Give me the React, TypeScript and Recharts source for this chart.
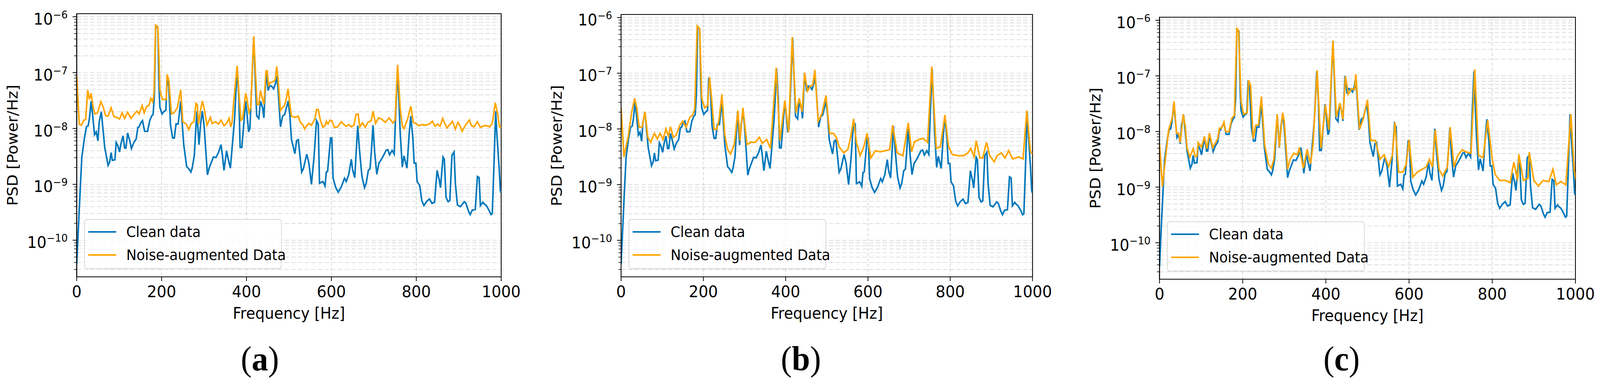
import React from "react";
import {
  LineChart,
  Line,
  XAxis,
  YAxis,
  CartesianGrid,
  ReferenceArea,
  Legend,
} from "recharts";

// log10(PSD) values, frequency in Hz
const cleanFreq = [
  0, 6, 12, 18, 23, 27, 30, 34, 37, 42, 46, 50, 53, 58, 61, 66, 74, 78, 81, 84, 90, 93, 97, 101, 104,
  109, 113, 116, 120, 125, 129, 134, 140, 144, 147, 150, 155, 160, 167, 172, 177, 180, 183, 186, 191,
  194, 196, 201, 205, 210, 213, 217, 221, 226, 230, 234, 239, 245, 252, 259, 264, 269, 272, 277, 283,
  288, 292, 296, 300, 308, 312, 316, 322, 328, 334, 340, 343, 347, 353, 357, 362, 368, 372, 378, 382,
  385, 389, 394, 398, 401, 405, 408, 417, 420, 424, 429, 433, 438, 441, 446, 451, 455, 460, 464, 468,
  471, 474, 480, 485, 490, 498, 502, 506, 514, 518, 522, 530, 534, 542, 547, 553, 559, 565, 569, 572,
  580, 585, 588, 591, 598, 601, 604, 610, 616, 623, 631, 635, 641, 647, 650, 655, 662, 666, 672, 678,
  682, 687, 691, 694, 698, 702, 707, 712, 718, 723, 729, 733, 737, 743, 748, 751, 756, 762, 767, 771,
  778, 783, 787, 792, 795, 799, 802, 808, 813, 818, 824, 831, 837, 843, 849, 854, 857, 863, 866, 870,
  875, 879, 884, 889, 892, 897, 904, 913, 917, 923, 927, 932, 939, 944, 948, 951, 957, 960, 965, 971,
  976, 979, 983, 987, 990, 995, 998, 1000,
];
const cleanLog = [
  -10.43, -9.45, -8.52, -8.18, -7.97, -7.95, -7.82, -7.51, -7.72, -8.11, -8.06, -8.22, -7.88, -7.7,
  -7.94, -8.34, -8.66, -8.59, -8.43, -8.57, -8.56, -8.25, -8.31, -8.42, -8.28, -8.13, -8.35, -8.35,
  -8.08, -8.22, -8.36, -8.26, -8.19, -7.98, -7.97, -7.91, -7.86, -8.05, -8.05, -7.86, -7.77, -7.75,
  -7.4, -6.17, -6.2, -7.3, -7.62, -7.74, -7.7, -7.67, -7.08, -7.26, -7.94, -8.17, -8.17, -7.92,
  -7.92, -7.51, -8.28, -8.68, -8.72, -8.78, -8.71, -8.49, -7.69, -8.29, -7.91, -7.69, -7.94, -8.83,
  -8.71, -8.63, -8.51, -8.52, -8.43, -8.29, -8.46, -8.75, -8.4, -8.55, -8.71, -8.18, -7.82, -6.92,
  -7.45, -8.34, -8.34, -7.88, -7.51, -7.72, -8.06, -8.0, -6.37, -6.98, -7.77, -7.82, -7.51, -7.63,
  -7.81, -7.0, -7.32, -7.23, -7.25, -7.29, -7.2, -7.06, -7.26, -7.97, -7.78, -7.75, -7.51, -7.75,
  -8.2, -8.45, -8.22, -8.2, -8.78, -8.72, -8.46, -8.62, -9.0, -8.52, -7.86, -7.92, -8.98, -8.95,
  -9.03, -8.78, -8.77, -8.17, -8.17, -8.89, -9.05, -9.14, -9.05, -8.89, -8.95, -8.82, -8.55, -8.74,
  -8.88, -7.95, -8.37, -8.86, -9.06, -8.98, -8.75, -8.72, -8.43, -7.94, -8.43, -8.82, -8.62, -8.55,
  -8.48, -8.39, -8.38, -8.47, -8.39, -8.46, -7.82, -6.92, -8.06, -8.69, -8.49, -8.71, -8.12, -7.78,
  -8.18, -8.62, -8.62, -8.95, -9.02, -9.29, -9.38, -9.31, -9.26, -9.34, -9.32, -8.75, -8.92, -9.06,
  -8.51, -8.55, -9.23, -9.31, -9.29, -8.48, -8.42, -8.98, -9.37, -9.4, -9.31, -9.34, -9.48, -9.54,
  -9.46, -9.45, -8.86, -8.88, -9.38, -9.32, -9.35, -9.38, -9.46, -9.54, -9.52, -8.65, -7.69, -8.12,
  -8.68, -9.11, -9.15,
];

const noiseAFreq = [
  0, 6, 11, 17, 21, 26, 30, 34, 39, 43, 49, 57, 63, 68, 74, 81, 88, 94, 101, 107, 113, 120, 128, 135,
  142, 147, 154, 159, 164, 170, 175, 179, 182, 186, 191, 194, 196, 202, 211, 213, 217, 223, 229, 237,
  245, 250, 258, 264, 270, 276, 281, 284, 287, 292, 296, 300, 307, 315, 319, 327, 334, 340, 347, 353,
  359, 363, 366, 370, 378, 382, 387, 391, 398, 401, 406, 410, 417, 420, 425, 429, 433, 436, 441, 446,
  449, 452, 455, 460, 465, 468, 471, 474, 480, 485, 489, 494, 498, 502, 506, 514, 522, 527, 533, 537,
  542, 547, 553, 561, 565, 569, 574, 580, 585, 588, 592, 597, 601, 607, 615, 623, 631, 635, 641, 647,
  653, 658, 663, 667, 673, 680, 686, 694, 698, 704, 711, 718, 727, 736, 745, 750, 756, 762, 767, 771,
  780, 787, 793, 799, 806, 813, 822, 831, 838, 844, 850, 856, 862, 866, 872, 878, 885, 892, 898, 903,
  908, 916, 925, 930, 936, 944, 951, 960, 965, 973, 979, 986, 992, 996, 1000,
];
const noiseALog = [
  -7.05, -7.92, -7.94, -7.85, -7.84, -7.31, -7.48, -7.37, -7.63, -7.74, -7.72, -7.52, -7.63, -7.77,
  -7.78, -7.63, -7.79, -7.8, -7.83, -7.72, -7.82, -7.71, -7.82, -7.75, -7.69, -7.74, -7.59, -7.72,
  -7.61, -7.59, -7.46, -7.52, -7.38, -6.15, -6.18, -6.77, -7.32, -7.48, -7.48, -7.03, -7.14, -7.74,
  -7.72, -7.63, -7.31, -7.88, -7.92, -8.02, -7.91, -7.88, -7.55, -7.57, -7.92, -7.66, -7.51, -7.63,
  -7.94, -7.8, -7.91, -7.88, -7.92, -7.85, -7.95, -7.91, -7.82, -7.97, -7.89, -7.51, -6.88, -7.35,
  -7.85, -7.82, -7.37, -7.46, -7.71, -7.63, -6.35, -6.83, -7.57, -7.57, -7.32, -7.42, -7.57, -6.97,
  -6.97, -7.25, -7.18, -7.17, -7.15, -7.12, -6.89, -7.08, -7.68, -7.62, -7.6, -7.46, -7.29, -7.57,
  -7.78, -7.8, -7.78, -7.89, -7.94, -8.01, -7.95, -7.91, -7.94, -7.83, -7.66, -7.66, -7.85, -7.98,
  -7.95, -7.87, -7.92, -7.85, -7.86, -7.98, -7.97, -7.88, -7.94, -7.96, -7.93, -7.97, -7.94, -7.75,
  -7.74, -7.97, -7.9, -7.98, -7.89, -7.86, -7.69, -7.91, -7.81, -7.83, -7.89, -7.81, -7.9, -7.85,
  -6.86, -7.63, -7.95, -8.0, -7.82, -7.6, -7.89, -7.91, -7.95, -7.93, -7.94, -7.92, -7.87, -7.96,
  -7.92, -7.96, -7.82, -7.89, -7.99, -7.94, -7.87, -8.01, -7.89, -7.95, -8.05, -7.94, -7.85, -7.95,
  -7.97, -7.88, -7.98, -7.95, -7.95, -7.97, -7.91, -7.54, -7.75, -7.97, -7.98,
];

const noiseBFreq = [
  0, 7, 12, 17, 26, 33, 38, 44, 51, 58, 65, 72, 81, 88, 95, 102, 109, 115, 120, 127, 134, 143, 150,
  158, 167, 174, 179, 185, 191, 196, 203, 210, 215, 220, 226, 233, 238, 245, 252, 259, 266, 275, 284,
  289, 296, 306, 315, 326, 336, 343, 354, 363, 377, 386, 398, 407, 416, 425, 433, 440, 446, 453, 460,
  466, 471, 479, 488, 498, 507, 516, 523, 530, 541, 551, 558, 565, 572, 581, 590, 598, 607, 618, 629,
  643, 653, 660, 671, 685, 698, 706, 713, 724, 734, 745, 755, 766, 776, 787, 796, 805, 819, 833, 843,
  850, 858, 863, 872, 879, 888, 896, 907, 914, 924, 933, 942, 952, 966, 977, 986, 995, 1000,
];
const noiseBLog = [
  -7.62, -8.5, -8.32, -8.15, -7.69, -7.45, -7.62, -7.97, -7.97, -7.69, -8.15, -8.24, -8.08, -8.18,
  -8.08, -8.19, -8.0, -8.13, -7.96, -8.15, -8.11, -7.93, -7.86, -7.97, -7.79, -7.75, -7.64, -6.15,
  -6.2, -7.45, -7.62, -7.58, -7.07, -7.45, -8.01, -8.0, -7.84, -7.38, -8.11, -8.37, -8.45, -8.28,
  -7.67, -8.21, -7.62, -8.28, -8.24, -8.24, -8.15, -8.26, -8.19, -8.35, -6.9, -8.21, -7.49, -8.06,
  -6.35, -7.71, -7.45, -7.69, -6.99, -7.32, -7.23, -7.21, -6.94, -7.86, -7.73, -7.4, -8.08, -8.08,
  -8.15, -8.32, -8.43, -8.37, -8.15, -7.82, -8.24, -8.48, -8.32, -8.08, -8.52, -8.39, -8.41, -8.39,
  -8.37, -7.93, -8.43, -8.48, -7.89, -8.41, -8.23, -8.19, -8.17, -8.24, -6.88, -8.35, -8.32, -7.75,
  -8.32, -8.46, -8.48, -8.48, -8.43, -8.35, -8.5, -8.21, -8.52, -8.52, -8.24, -8.48, -8.59, -8.48,
  -8.43, -8.52, -8.39, -8.54, -8.5, -8.54, -7.67, -8.41, -8.45,
];

const noiseCFreq = [
  0, 7, 11, 16, 22, 28, 31, 35, 41, 46, 50, 57, 62, 66, 73, 81, 86, 90, 93, 101, 108, 114, 120, 128,
  140, 144, 149, 155, 159, 167, 174, 180, 186, 190, 194, 196, 202, 211, 214, 219, 225, 231, 238, 245,
  253, 262, 269, 275, 283, 288, 296, 300, 308, 314, 323, 332, 336, 346, 355, 363, 369, 379, 388, 399,
  407, 417, 425, 434, 441, 447, 454, 462, 469, 472, 481, 490, 500, 508, 519, 530, 540, 551, 560, 566,
  575, 585, 593, 600, 609, 620, 631, 641, 649, 656, 663, 672, 681, 692, 699, 708, 717, 728, 738, 749,
  758, 767, 778, 789, 800, 807, 818, 832, 843, 852, 861, 864, 875, 886, 889, 900, 911, 922, 936, 946,
  954, 965, 977, 989, 997, 1000,
];
const noiseCLog = [
  -8.22, -8.99, -8.71, -8.37, -7.97, -7.82, -7.74, -7.46, -8.03, -8.03, -8.2, -7.69, -7.91, -8.29,
  -8.46, -8.31, -8.45, -8.44, -8.2, -8.28, -8.09, -8.31, -8.03, -8.29, -8.13, -7.94, -7.94, -7.83,
  -8.0, -8.0, -7.76, -7.71, -6.15, -6.18, -7.0, -7.45, -7.69, -7.66, -7.08, -7.17, -8.13, -7.89,
  -7.88, -7.37, -8.25, -8.59, -8.66, -8.5, -7.69, -8.28, -7.66, -7.82, -8.68, -8.5, -8.39, -8.42,
  -8.29, -8.66, -8.32, -8.58, -8.25, -6.9, -8.3, -7.52, -7.97, -6.37, -7.74, -7.49, -7.78, -7.01,
  -7.33, -7.23, -7.25, -6.97, -7.96, -7.77, -7.43, -8.16, -8.16, -8.5, -8.42, -8.63, -8.42, -7.84,
  -8.73, -8.73, -8.59, -8.15, -8.82, -8.73, -8.68, -8.64, -8.5, -8.64, -7.97, -8.68, -8.8, -8.64,
  -7.92, -8.64, -8.43, -8.33, -8.37, -8.39, -6.88, -8.43, -8.47, -7.8, -8.5, -8.77, -8.88, -8.88,
  -8.92, -8.55, -8.88, -8.41, -8.88, -8.84, -8.37, -8.88, -8.98, -8.88, -8.9, -8.68, -8.96, -8.9,
  -8.96, -7.69, -8.7, -8.85,
];

const freqTicks = [0, 200, 400, 600, 800, 1000];
const decadeTicks = [1e-10, 1e-9, 1e-8, 1e-7, 1e-6];
const decadeExponents = ["−10", "−9", "−8", "−7", "−6"];
const minorMultipliers = [2, 3, 4, 5, 6, 7, 8, 9];

const Y_MIN = 2.21e-11;
const Y_MAX = 1.135e-6;

const FONT = "'DejaVu Sans', sans-serif";
const BLUE = "#0077bb";
const ORANGE = "#ffa500";

const minorTicks: number[] = [];
[1e-11, 1e-10, 1e-9, 1e-8, 1e-7].forEach((d) => {
  minorMultipliers.forEach((m) => {
    const v = m * d;
    if (v > Y_MIN && v < Y_MAX) minorTicks.push(v);
  });
});
const yTicks = [...decadeTicks, ...minorTicks].sort((a, b) => a - b);

const toRows = (freq: number[], logs: number[]) =>
  freq.map((f, i) => ({ f, v: Math.pow(10, logs[i]) }));

const cleanRows = toRows(cleanFreq, cleanLog);

const panels = [
  {
    id: "a",
    rows: toRows(noiseAFreq, noiseALog),
    left: 0,
    width: 1432,
    plotTop: 35,
    plotBottom: 708,
    plotWidth: 1140,
    captionX: 698,
  },
  {
    id: "b",
    rows: toRows(noiseBFreq, noiseBLog),
    left: 1462,
    width: 1420,
    plotTop: 37,
    plotBottom: 708,
    plotWidth: 1105,
    captionX: 689,
  },
  {
    id: "c",
    rows: toRows(noiseCFreq, noiseCLog),
    left: 2908,
    width: 1389,
    plotTop: 44,
    plotBottom: 714,
    plotWidth: 1117,
    captionX: 695,
  },
];

const PAGE_W = 4297;
const HEIGHT = 982;
const Y_AXIS_W = 206;
const X_AXIS_H = 60;

function YTick(props: any) {
  const { x, y, payload } = props;
  const idx = decadeTicks.indexOf(payload.value);
  const major = idx >= 0;
  return (
    <g>
      <line
        x1={x}
        x2={x - (major ? 11 : 7)}
        y1={y}
        y2={y}
        stroke="#000"
        strokeWidth={major ? 2 : 1.5}
      />
      {major && (
        <text x={x - 24} y={y + 20} textAnchor="end" fontSize={41} fontFamily={FONT} fill="#000">
          <tspan>10</tspan>
          <tspan fontSize={27} dy={-16}>
            {decadeExponents[idx]}
          </tspan>
        </text>
      )}
    </g>
  );
}

function LegendBox() {
  const row = (color: string, label: string, cy: number) => (
    <div
      style={{
        position: "absolute",
        left: 0,
        top: cy - 22,
        height: 44,
        display: "flex",
        alignItems: "center",
      }}
    >
      <div style={{ width: 9 }} />
      <div style={{ width: 75, height: 4, background: color }} />
      <div style={{ width: 27 }} />
      <span style={{ fontSize: 37, fontFamily: FONT, color: "#000", whiteSpace: "nowrap" }}>
        {label}
      </span>
    </div>
  );
  return (
    <div
      style={{
        position: "relative",
        width: 531,
        height: 128,
        boxSizing: "border-box",
        border: "2px solid #d8d8d8",
        borderRadius: 8,
        background: "rgba(255,255,255,0.8)",
      }}
    >
      {row(BLUE, "Clean data", 31)}
      {row(ORANGE, "Noise-augmented Data", 90)}
    </div>
  );
}

function Panel({ p }: { p: (typeof panels)[number] }) {
  const marginRight = p.width - Y_AXIS_W - p.plotWidth;
  const marginBottom = HEIGHT - p.plotBottom - X_AXIS_H;
  return (
    <div style={{ position: "absolute", left: p.left, top: 0, width: p.width, height: HEIGHT }}>
      <LineChart
        width={p.width}
        height={HEIGHT}
        margin={{ top: p.plotTop, right: marginRight, bottom: marginBottom, left: 0 }}
      >
        <CartesianGrid vertical={false} stroke="#d6d6d6" strokeDasharray="12 6" strokeWidth={1.6} />
        <CartesianGrid horizontal={false} stroke="#cdcdcd" strokeDasharray="8 5" strokeWidth={1.6} />
        <XAxis
          type="number"
          dataKey="f"
          domain={[0, 1000]}
          ticks={freqTicks}
          interval={0}
          allowDataOverflow
          height={X_AXIS_H}
          tickSize={11}
          tickMargin={12}
          tick={{ fontSize: 41, fill: "#000", fontFamily: FONT }}
          tickLine={{ stroke: "#000", strokeWidth: 2 }}
          axisLine={{ stroke: "#000", strokeWidth: 2.2 }}
          label={{
            content: (lp: any) => {
              const vb = lp.viewBox;
              return (
                <g>
                  <text
                    x={vb.x + vb.width / 2}
                    y={vb.y + 107}
                    textAnchor="middle"
                    fontSize={40}
                    fontFamily={FONT}
                    fill="#000"
                  >
                    Frequency [Hz]
                  </text>
                  <text
                    x={p.captionX}
                    y={947}
                    textAnchor="middle"
                    fontSize={88}
                    fontFamily="'Liberation Serif', serif"
                    fill="#000"
                  >
                    (<tspan fontWeight="bold">{p.id}</tspan>)
                  </text>
                </g>
              );
            },
          }}
        />
        <YAxis
          type="number"
          scale="log"
          domain={[Y_MIN, Y_MAX]}
          allowDataOverflow
          ticks={yTicks}
          interval={0}
          width={Y_AXIS_W}
          tickSize={0}
          tickMargin={0}
          tickLine={false}
          tick={(tp: any) => <YTick {...tp} />}
          axisLine={{ stroke: "#000", strokeWidth: 2.2 }}
          label={{
            content: (lp: any) => {
              const vb = lp.viewBox;
              const cx = vb.x + 47;
              const cy = vb.y + vb.height / 2;
              return (
                <text
                  x={cx}
                  y={cy}
                  transform={`rotate(-90 ${cx} ${cy})`}
                  textAnchor="middle"
                  fontSize={40}
                  fontFamily={FONT}
                  fill="#000"
                >
                  PSD [Power/Hz]
                </text>
              );
            },
          }}
        />
        <Line
          data={cleanRows}
          dataKey="v"
          name="Clean data"
          type="linear"
          stroke={BLUE}
          strokeWidth={4.2}
          dot={false}
          activeDot={false}
          isAnimationActive={false}
        />
        <Line
          data={p.rows}
          dataKey="v"
          name="Noise-augmented Data"
          type="linear"
          stroke={ORANGE}
          strokeWidth={4.2}
          dot={false}
          activeDot={false}
          isAnimationActive={false}
        />
        <ReferenceArea
          x1={0}
          x2={1000}
          y1={Y_MIN}
          y2={Y_MAX}
          fill="none"
          stroke="#000"
          strokeWidth={2.2}
          ifOverflow="visible"
        />
        <Legend
          layout="horizontal"
          verticalAlign="middle"
          align="center"
          width={531}
          height={128}
          wrapperStyle={{ left: Y_AXIS_W + 20, top: p.plotBottom - 148, width: 531, height: 128 }}
          content={() => <LegendBox />}
        />
      </LineChart>
    </div>
  );
}

export default function App() {
  // the browser viewport can be narrower than the figure; squeeze to fit it
  const vw = typeof window !== "undefined" ? window.innerWidth : PAGE_W;
  const vh = typeof window !== "undefined" ? window.innerHeight : HEIGHT;
  const sx = vw > 0 ? Math.min(1, vw / PAGE_W) : 1;
  const sy = vh > 0 ? Math.min(1, vh / HEIGHT) : 1;
  return (
    <div
      style={{
        position: "absolute",
        left: 0,
        top: 0,
        width: PAGE_W,
        height: HEIGHT,
        background: "#fff",
        fontFamily: FONT,
        overflow: "hidden",
        transform: `scale(${sx}, ${sy})`,
        transformOrigin: "0 0",
      }}
    >
      {panels.map((p) => (
        <Panel key={p.id} p={p} />
      ))}
    </div>
  );
}
